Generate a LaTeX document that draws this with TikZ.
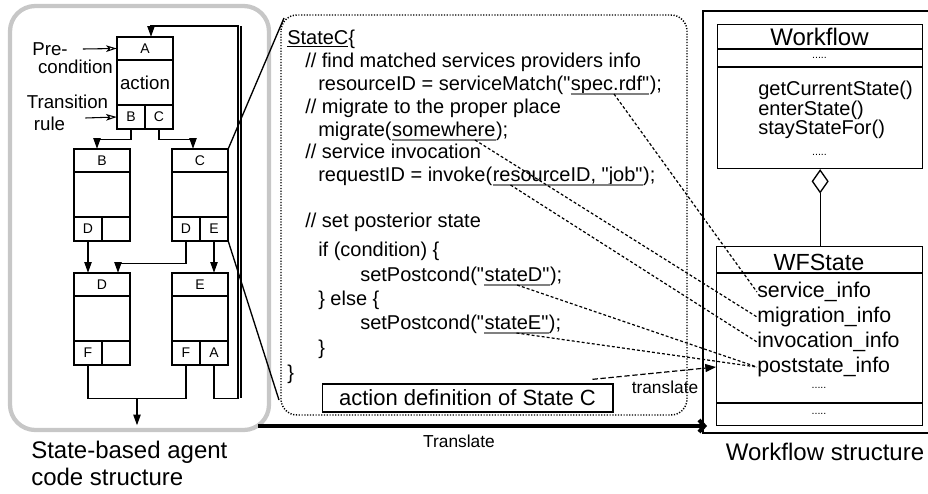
\documentclass[tikz,border=0pt]{standalone}
\usepackage{fontspec}
\setmainfont{Liberation Sans}[Ligatures=TeXOff]
\usetikzlibrary{arrows.meta,calc,positioning,shapes.geometric}

\begin{document}
\begin{tikzpicture}[x=0.75pt,y=-0.75pt,
  code/.style={anchor=base west,inner sep=0pt,font=\fontsize{15}{18}\selectfont},
  lbl/.style={inner sep=0pt,font=\fontsize{14}{17}\selectfont},
  cell/.style={inner sep=0pt,minimum width=21pt,minimum height=18pt,font=\fontsize{10.5}{12}\selectfont},
  head/.style={inner sep=0pt,minimum width=42pt,minimum height=17.25pt,font=\fontsize{10.5}{12}\selectfont},
  attr/.style={anchor=west,inner sep=0pt,font=\fontsize{16}{19}\selectfont},
  meth/.style={anchor=west,inner sep=0pt,font=\fontsize{15}{18}\selectfont},
  dots/.style={inner sep=0pt,font=\fontsize{8}{9}\selectfont},
  flow/.style={line width=1pt,-{Triangle[length=8pt,width=5.5pt]}},
  hint/.style={line width=0.8pt,-{Stealth[open,length=8pt,width=5pt,inset=2pt]}},
  link/.style={line width=0.9pt,dash pattern=on 2.2pt off 1.6pt},
  uline/.style={draw=gray,line width=1pt},
  frame/.style={line width=1pt},
  sep/.style={line width=1.8pt},
]
\useasboundingbox (0,0) rectangle (928,493);

% agent code structure
\draw[black!22,line width=3.2pt,rounded corners=19pt] (10,6) rectangle (269,430);
\foreach \n/\x/\y/\l/\r in {A/117/37/B/C, B/74/149/D/{}, C/172/149/D/E, D/74/273/F/{}, E/172/273/F/A}{
  \draw[frame] (\x,\y) rectangle ++(56,92);
  \draw[sep] (\x,\y+23) -- ++(56,0) (\x,\y+68) -- ++(56,0) (\x+28,\y+68) -- ++(0,24);
  \node[head] (\n-h) at (\x+28,\y+11.5) {\n};
  \node[cell] (\n-l) at (\x+14,\y+80) {\l};
  \node[cell] (\n-r) at (\x+42,\y+80) {\r};
}
\node[lbl] (act) at (145,82.5) {action};
\node[lbl] (pre) at (50,49) {Pre-};
\node[lbl] (cond) at (75.5,67) {condition};
\node[lbl] (trans) at (67.5,102) {Transition};
\node[lbl] (rule) at (49.5,124) {rule};
\draw[hint] ($(pre.east)+(15,0)$) -- (A-h.west);
\draw[hint] ($(rule.east)+(20,-6)$) -- (A-l.west);

\draw[flow] (A-l.south) -- ++(0,10) -| ($(B-h.north)+(-5,0)$);
\draw[flow] (A-r.south) -- ++(0,10) -| ($(C-h.north)+(-7,0)$);
\draw[flow] (B-l.south) -- (B-l.south |- D-h.north);
\draw[flow] (C-l.south) -- ++(0,22) -| ($(D-h.north)+(16,0)$);
\draw[flow] (C-r.south) -- (C-r.south |- E-h.north);
\draw[frame] (D-l.south) -- ++(0,33) -| (E-l.south);
\coordinate (fj) at ($(D-l.south)!0.5!(E-l.south)+(0,33)$);
\coordinate (fout) at ($(fj)+(0,27)$);
\draw[flow] (fj) -- (fout);
\coordinate (loop) at (238,26);
\draw[flow] (E-r.south) -- ++(0,33) -| (loop) -| ($(A-h.north)+(6,0)$);
\draw[frame] ($(loop)+(3,0)$) -- ++(0,372);

\node[align=left,anchor=north west,inner sep=0pt,font=\fontsize{18}{20}\selectfont] (cap1) at (31,441) {State-based agent\\code structure};

% action definition of state C
\draw[line width=1.1pt,dash pattern=on 0.9pt off 1.2pt,rounded corners=12pt] (281,15) rectangle (687,415);
\coordinate (dtop) at (284,18);
\coordinate (dbot) at (279,400);
\draw[frame] (C-h.north east) -- (dtop);
\draw[frame] (C-r.south east) -- (dbot);

\node[code] (c0) at (287,44) {\underline{StateC}\{};
\node[code] (c1) at (305,67) {// find matched services providers info};
\node[code] (c2) at (318,90) {resourceID = serviceMatch("};
\node[code] (spec) at (c2.base east) {spec.rdf"};
\node[code] (c2e) at (spec.base east) {);};
\node[code] (c3) at (305,113) {// migrate to the proper place};
\node[code] (c4) at (318,136) {migrate(};
\node[code] (swh) at (c4.base east) {somewhere};
\node[code] (c4e) at (swh.base east) {);};
\node[code] (c5) at (305,158) {// service invocation};
\node[code] (c6) at (318,181) {requestID = invoke(};
\node[code] (rid) at (c6.base east) {resourceID, "job"};
\node[code] (c6e) at (rid.base east) {);};
\node[code] (c7) at (305,227) {// set posterior state};
\node[code] (c8) at (318,256) {if (condition) \{};
\node[code] (c9) at (360,281) {setPostcond("};
\node[code] (sD) at (c9.base east) {stateD"};
\node[code] (c9e) at (sD.base east) {);};
\node[code] (c10) at (318,305) {\} else \{};
\node[code] (c11) at (360,329) {setPostcond("};
\node[code] (sE) at (c11.base east) {stateE"};
\node[code] (c11e) at (sE.base east) {);};
\node[code] (c12) at (318,354) {\}};
\node[code] (c13) at (287,379) {\}};
\foreach \u in {spec,swh,rid,sD,sE}
  \draw[uline] ($(\u.base west)+(0,4)$) -- ($(\u.base east)+(0,4)$);

\node[draw,frame,inner sep=0pt,minimum width=218pt,minimum height=21pt,font=\fontsize{16.5}{19}\selectfont] (adef) at (467.5,398) {action definition of State C};
\node[inner sep=0pt,font=\fontsize{13}{15}\selectfont] (tr) at (665,387) {translate};

% workflow structure
\draw[frame] (930,11) -- (703,11) -- (703,433) -- (930,433);
\node[draw,frame,anchor=north west,inner sep=0pt,minimum width=153.75pt,minimum height=108pt] (wf) at (717,24) {};
\draw[frame] (717,49) -- (922,49) (717,67) -- (922,67);
\node[inner sep=0pt,font=\fontsize{18}{20}\selectfont] (wft) at (819.5,37) {Workflow};
\node[dots] (wfd1) at (819.5,58) {.....};
\node[meth] (m1) at (758,90) {getCurrentState()};
\node[meth] (m2) at (758,110) {enterState()};
\node[meth] (m3) at (758,129) {stayStateFor()};
\node[dots] (wfd2) at (819.5,155) {.....};
\node[diamond,draw,frame,inner sep=0pt,minimum width=12pt,minimum height=17pt,anchor=north] (agg) at (wf.south) {};

\node[draw,frame,anchor=north west,inner sep=0pt,minimum width=154.5pt,minimum height=134.25pt] (wfs) at (716,246) {};
\draw[frame] (716,273) -- (922,273) (716,403) -- (922,403);
\draw[frame] (agg.south) -- (agg.south |- wfs.north);
\node[inner sep=0pt,font=\fontsize{17.5}{20}\selectfont] (wfst) at (819,262) {WFState};
\node[attr] (svc) at (757,292) {service\_info};
\node[attr] (mig) at (757,317) {migration\_info};
\node[attr] (inv) at (757,342) {invocation\_info};
\node[attr] (post) at (757,367) {poststate\_info};
\node[dots] (wsd1) at (819,388) {.....};
\node[dots] (wsd2) at (819,414) {.....};

\node[inner sep=0pt,font=\fontsize{18}{20}\selectfont] (cap2) at (825,452) {Workflow structure};

% mappings
\draw[link] ($(spec.base west)!0.55!(spec.base east)+(0,4)$) -- (svc.west);
\draw[link] ($(swh.base west)!0.8!(swh.base east)+(0,4)$) -- (mig.west);
\draw[link] ($(rid.base west)!0.12!(rid.base east)+(0,4)$) -- (inv.west);
\draw[link] ($(sD.base west)!0.5!(sD.base east)+(0,4)$) -- (post.west);
\draw[link] ($(sE.base west)!0.5!(sE.base east)+(0,4)$) -- (post.west);
\draw[line width=0.9pt,dash pattern=on 4pt off 2pt,-{Triangle[length=8pt,width=6pt]}] ($(adef.north east)+(-21,-4)$) -- (post.west -| wfs.west);

\coordinate (tl0) at (258,426);
\coordinate (tl1) at (707,426);
\draw[line width=3pt,-{Straight Barb[length=4pt,width=9pt]}] (tl0) -- (tl1);
\node[inner sep=0pt,font=\fontsize{13}{15}\selectfont] (tlab) at (459,441) {Translate};
\end{tikzpicture}
\end{document}
